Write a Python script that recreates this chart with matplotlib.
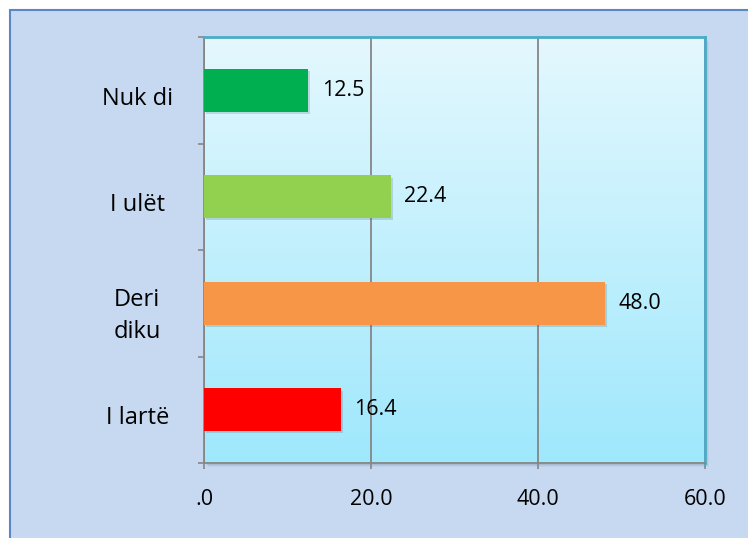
import numpy as np
import matplotlib.pyplot as plt
import matplotlib.patheffects as pe
from matplotlib.patches import Rectangle

# data, bottom to top
categories = ['I lartë', 'Deri\ndiku', 'I ulët', 'Nuk di']
values = [16.4, 48.0, 22.4, 12.5]
colors = ['#FF0000', '#F79646', '#92D050', '#00B050']
xticks = [0, 20, 40, 60]
xlabels = ['.0', '20.0', '40.0', '60.0']

W, H = 748, 538
plt.rcParams['font.family'] = ['Open Sans', 'DejaVu Sans']

fig = plt.figure(figsize=(W / 100, H / 100), dpi=100)
fig.patch.set_facecolor('white')

# chart frame (white strip on top and left like the original crop)
frame = Rectangle((10 / W, -0.1), 1.2, 1 - 10 / H + 0.1, transform=fig.transFigure,
                  facecolor='#C6D9F0', edgecolor='#5B87C2', linewidth=1.5, zorder=0)
fig.patches.append(frame)

left, right, top, bottom = 204, 705, 37, 463
pos = [left / W, 1 - bottom / H, (right - left) / W, (bottom - top) / H]

# soft shadow behind plot area
for k, a in [(4, 0.08), (3, 0.12), (2, 0.16)]:
    sh = Rectangle((pos[0] + k / W, pos[1] - k / H), pos[2], pos[3], transform=fig.transFigure,
                   facecolor='#6F7F8F', edgecolor='none', alpha=a, zorder=0.5)
    fig.patches.append(sh)

ax = fig.add_axes(pos)
ax.set_zorder(2)

# gradient fill of the plot area
grad = np.linspace(0, 1, 256).reshape(-1, 1)
c_top = np.array([0xE4, 0xF8, 0xFE]) / 255
c_bot = np.array([0x9F, 0xE8, 0xFC]) / 255
img = c_top[None, None, :] * (1 - grad[:, :, None]) + c_bot[None, None, :] * grad[:, :, None]
ax.imshow(img, extent=[0, 60, -0.5, 3.5], aspect='auto', origin='upper', zorder=0)

y = np.arange(len(categories))
bars = ax.barh(y, values, height=0.4, color=colors, zorder=3)
for b in bars:
    b.set_path_effects([pe.SimplePatchShadow(offset=(1.5, -1.5), shadow_rgbFace='#4A5A6A', alpha=0.2),
                        pe.Normal()])

for yi, v in zip(y, values):
    ax.text(v + 1.6, yi, f'{v:.1f}', va='center', ha='left', fontsize=15.5, color='black', zorder=4)

ax.set_xlim(0, 60)
ax.set_ylim(-0.5, 3.5)
ax.set_xticks(xticks)
ax.set_xticklabels(xlabels, fontsize=15.5)
# category labels sit a little below the band centre in the original
ax.set_yticks(y - 0.05)
ax.set_yticklabels(categories, fontsize=17, ha='center', linespacing=1.45)
ax.set_yticks(np.arange(-0.5, 4, 1), minor=True)

ax.grid(axis='x', color='#868686', linewidth=1.3, zorder=1)
ax.tick_params(axis='y', which='major', length=0, pad=48)
ax.tick_params(axis='y', which='minor', length=4.5, width=1.2, color='#868686', direction='out')
ax.tick_params(axis='x', length=4.5, width=1.2, color='#868686', direction='out', pad=14)

for s in ['left', 'bottom']:
    ax.spines[s].set_color('#868686')
    ax.spines[s].set_linewidth(1.3)
for s in ['top', 'right']:
    ax.spines[s].set_color('#4BACC6')
    ax.spines[s].set_linewidth(2)

fig.savefig('out.png', dpi=100, facecolor=fig.get_facecolor())
